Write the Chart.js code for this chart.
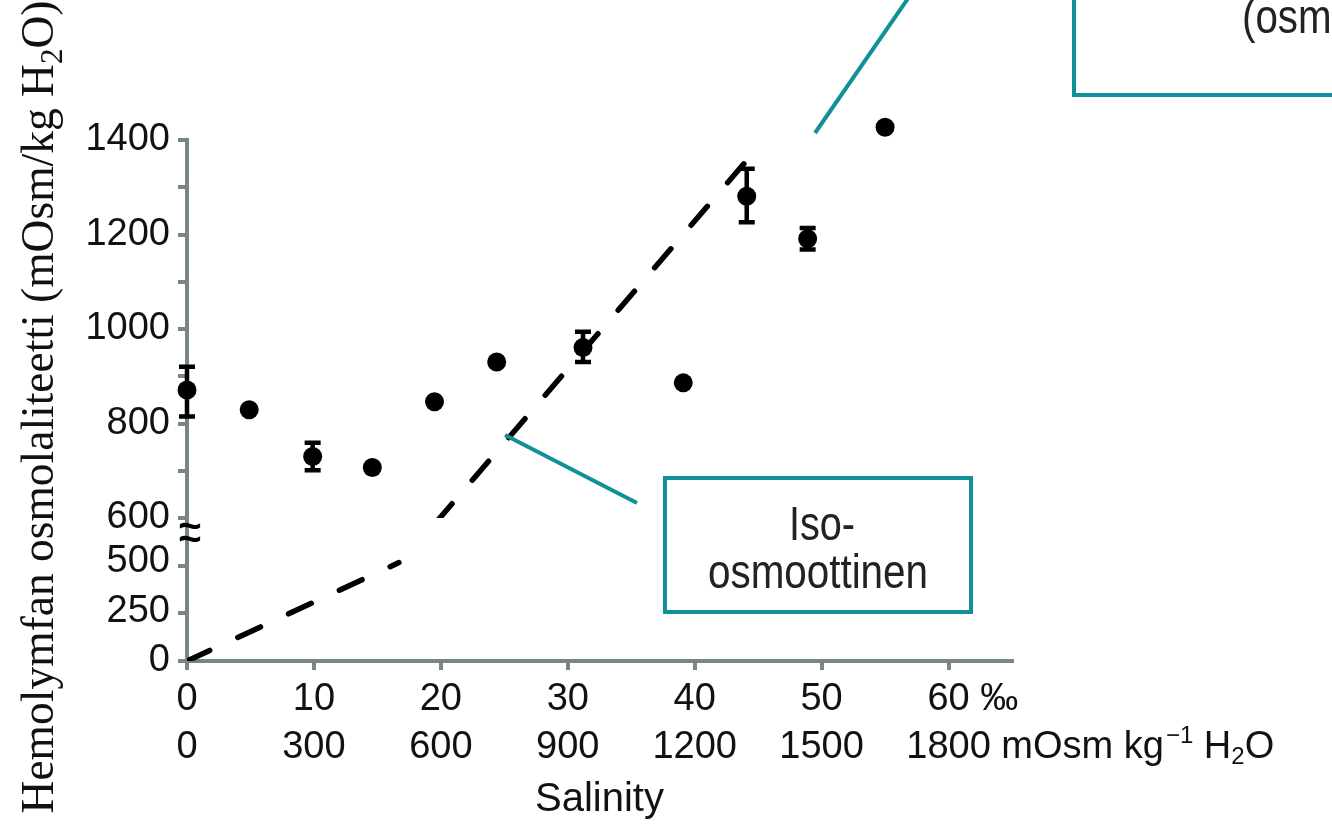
<!DOCTYPE html>
<html>
<head>
<meta charset="utf-8">
<script src="https://cdn.jsdelivr.net/npm/chart.js@4.4.1/dist/chart.umd.min.js"></script>
<style>
html,body{margin:0;padding:0;background:#fff;}
#wrap{width:1332px;height:827px;position:relative;}
</style>
</head>
<body>
<div id="wrap"><canvas id="chart"></canvas></div>
<script>
// values
const salinity  = [0, 4.9, 9.9, 14.6, 19.5, 24.4, 31.2, 39.1, 44.1, 48.9, 55.0];
const hemolymph = [871, 829, 730, 707, 846, 930, 961, 886, 1281, 1191, 1427];
const errLow    = [815, null, 701, null, null, null, 930, null, 1226, 1168, null];
const errHigh   = [920, null, 759, null, null, null, 994, null, 1339, 1214, null];

// iso-osmotic line, in two pieces round the axis break
const isoLowX  = [0, 16.7];
const isoLowY  = [0, 497];
const isoHighX = [19.6, 44.3];
const isoHighY = [590, 1363];

const salinityLabels = ['0', '10', '20', '30', '40', '50', '60'];
const osmLabels      = ['0', '300', '600', '900', '1200', '1500', '1800'];
const lowTicks  = [0, 250, 500];
const highTicks = [600, 800, 1000, 1200, 1400];

const axisCol = '#778686';
const teal = '#11909a';
const txt = '#111';
const sans = "'Liberation Sans', Arial, sans-serif";
const narrow = "'Liberation Sans Narrow', 'Arial Narrow', 'Liberation Sans', sans-serif";

const toPts = (xs, ys) => xs.map((x, i) => ({x: x, y: ys[i]}));

// draw text squeezed to a width if the font comes out too wide
function fitText(ctx, s, x, y, maxW) {
  const w = ctx.measureText(s).width;
  const k = Math.min(1, maxW / w);
  ctx.save();
  ctx.translate(x, y);
  ctx.scale(k, 1);
  ctx.fillText(s, 0, 0);
  ctx.restore();
}

const extras = {
  id: 'extras',
  beforeDatasetsDraw(chart) {
    // error bars
    const ctx = chart.ctx, xs = chart.scales.x, ys = chart.scales.yHigh;
    ctx.save();
    ctx.strokeStyle = '#000';
    ctx.lineWidth = 4.5;
    salinity.forEach((s, i) => {
      if (errLow[i] == null) return;
      const px = xs.getPixelForValue(s);
      const y1 = ys.getPixelForValue(errLow[i]);
      const y2 = ys.getPixelForValue(errHigh[i]);
      ctx.beginPath();
      ctx.moveTo(px, y1); ctx.lineTo(px, y2);
      ctx.moveTo(px - 8, y1); ctx.lineTo(px + 8, y1);
      ctx.moveTo(px - 8, y2); ctx.lineTo(px + 8, y2);
      ctx.stroke();
    });
    ctx.restore();
  },
  afterDraw(chart) {
    const ctx = chart.ctx, xs = chart.scales.x, yl = chart.scales.yLow;
    ctx.save();

    // low axis labels (drawn here, Chart.js drops them on the short stacked axis)
    ctx.fillStyle = txt;
    ctx.font = "38px " + sans;
    ctx.textAlign = 'right';
    ctx.textBaseline = 'middle';
    lowTicks.forEach((v) => {
      if (v === 0) return;
      ctx.fillText(String(v), yl.right - 9 - 8, yl.getPixelForValue(v));
    });

    // axis break marks
    ctx.fillStyle = '#000';
    ctx.font = "bold 40px " + sans;
    ctx.textAlign = 'center';
    ctx.fillText('~', chart.chartArea.left + 3, 528);
    ctx.fillText('~', chart.chartArea.left + 3, 541);

    // y title
    ctx.fillStyle = txt;
    ctx.textAlign = 'left';
    ctx.textBaseline = 'alphabetic';
    const main = 'Hemolymfan osmolaliteetti (mOsm/kg H', sub = '2', end = 'O)';
    const fBig = "45.5px 'Liberation Serif', 'Times New Roman', serif";
    const fSub = "31px 'Liberation Serif', 'Times New Roman', serif";
    ctx.font = fBig;
    const w1 = ctx.measureText(main).width, w3 = ctx.measureText(end).width;
    ctx.font = fSub;
    const w2 = ctx.measureText(sub).width;
    const tot = w1 + w2 + w3;
    ctx.save();
    ctx.translate(53, 407);
    ctx.rotate(-Math.PI / 2);
    let lx = -tot / 2;
    ctx.font = fBig; ctx.fillText(main, lx, 0); lx += w1;
    ctx.font = fSub; ctx.fillText(sub, lx, 9); lx += w2;
    ctx.font = fBig; ctx.fillText(end, lx, 0);
    ctx.restore();

    // unit text after the last x tick labels
    const lh = 38 * 1.25;
    const row1 = xs.top + 9 + 6 + lh / 2;
    const row2 = row1 + lh;
    const p60 = xs.getPixelForValue(60);
    ctx.font = "38px " + sans;
    ctx.textBaseline = 'middle';
    let ux = p60 + ctx.measureText(salinityLabels[6]).width / 2;
    ctx.fillText(' \u2030', ux, row1);
    ux = p60 + ctx.measureText(osmLabels[6]).width / 2;
    const seg = ' mOsm kg';
    ctx.fillText(seg, ux, row2); ux += ctx.measureText(seg).width;
    ctx.font = "24px " + sans;
    ctx.fillText('\u22121', ux + 2, row2 - 11); ux += ctx.measureText('\u22121').width + 2;
    ctx.font = "38px " + sans;
    ctx.fillText(' H', ux, row2); ux += ctx.measureText(' H').width;
    ctx.font = "24px " + sans;
    ctx.fillText('2', ux, row2 + 10); ux += ctx.measureText('2').width;
    ctx.font = "38px " + sans;
    ctx.fillText('O', ux, row2);

    // callout boxes
    ctx.strokeStyle = teal;
    ctx.lineWidth = 4;
    ctx.lineCap = 'butt';
    ctx.beginPath();
    ctx.moveTo(505, 435); ctx.lineTo(637, 503);
    ctx.stroke();
    ctx.strokeRect(665, 478, 306, 134);
    ctx.fillStyle = '#222';
    ctx.textBaseline = 'alphabetic';
    ctx.textAlign = 'left';
    ctx.font = "48px " + narrow;
    const iso1 = 'Iso-', iso2 = 'osmoottinen';
    let wA = Math.min(ctx.measureText(iso1).width, 66);
    fitText(ctx, iso1, 818 - wA / 2 + 4, 540, 66);
    let wB = Math.min(ctx.measureText(iso2).width, 220);
    fitText(ctx, iso2, 818 - wB / 2, 588, 220);

    ctx.beginPath();
    ctx.moveTo(815, 133); ctx.lineTo(909, -3);
    ctx.moveTo(1074, -5); ctx.lineTo(1074, 95); ctx.lineTo(1340, 95);
    ctx.stroke();
    fitText(ctx, '(osmo', 1242, 33, 112);

    ctx.restore();
  }
};

const grid = {drawOnChartArea: false, color: axisCol, lineWidth: 4, tickLength: 9};
const border = {color: axisCol, width: 4};
const tickFont = {family: sans, size: 38};

new Chart(document.getElementById('chart'), {
  type: 'scatter',
  data: {
    datasets: [
      {
        label: 'Hemolymfa',
        data: toPts(salinity, hemolymph),
        yAxisID: 'yHigh',
        pointRadius: 9.5,
        pointHoverRadius: 30,
        pointBackgroundColor: '#000',
        pointBorderWidth: 0,
        clip: false
      },
      {
        label: 'Iso-osmoottinen (ala)',
        data: toPts(isoLowX, isoLowY),
        yAxisID: 'yLow',
        showLine: true,
        borderColor: '#000',
        borderWidth: 5.5,
        borderDash: [25, 31],
        borderCapStyle: 'round',
        pointRadius: 0
      },
      {
        label: 'Iso-osmoottinen (yla)',
        data: toPts(isoHighX, isoHighY),
        yAxisID: 'yHigh',
        showLine: true,
        borderColor: '#000',
        borderWidth: 5.5,
        borderDash: [25, 31],
        borderCapStyle: 'round',
        pointRadius: 0
      }
    ]
  },
  options: {
    responsive: true,
    maintainAspectRatio: false,
    devicePixelRatio: 1,
    animation: false,
    events: [],
    layout: {padding: {left: 0, right: 320, top: 140, bottom: 0}},
    plugins: {legend: {display: false}, tooltip: {enabled: false}},
    scales: {
      x: {
        type: 'linear',
        min: 0, max: 65,
        grid: grid, border: border,
        ticks: {
          stepSize: 10, includeBounds: false, maxRotation: 0, autoSkip: false,
          padding: 6, color: txt,
          font: {family: sans, size: 38, lineHeight: 1.25},
          callback: (v, i) => [salinityLabels[i], osmLabels[i]]
        },
        title: {display: true, text: 'Salinity', color: txt, font: {family: sans, size: 40}, padding: {top: 0, bottom: 3}},
        afterFit: (s) => { s.height = 166; }
      },
      yLow: {
        type: 'linear', position: 'left', stack: 'hemo', stackWeight: 143,
        min: 0, max: 722,
        grid: grid, border: border,
        ticks: {
          stepSize: 250, includeBounds: false, autoSkip: false, padding: 8, color: txt, font: tickFont,
          callback: (v) => v === 0 ? '0' : ''
        },
        afterFit: (s) => { s.width = 187; }
      },
      yHigh: {
        type: 'linear', position: 'left', stack: 'hemo', stackWeight: 378,
        min: 600, max: 1400,
        grid: grid, border: border,
        ticks: {
          stepSize: 100, autoSkip: false, padding: 8, color: txt, font: tickFont,
          callback: (v) => highTicks.includes(v) ? String(v) : ''
        },
        afterFit: (s) => { s.width = 187; }
      }
    }
  },
  plugins: [extras]
});
</script>
</body>
</html>
